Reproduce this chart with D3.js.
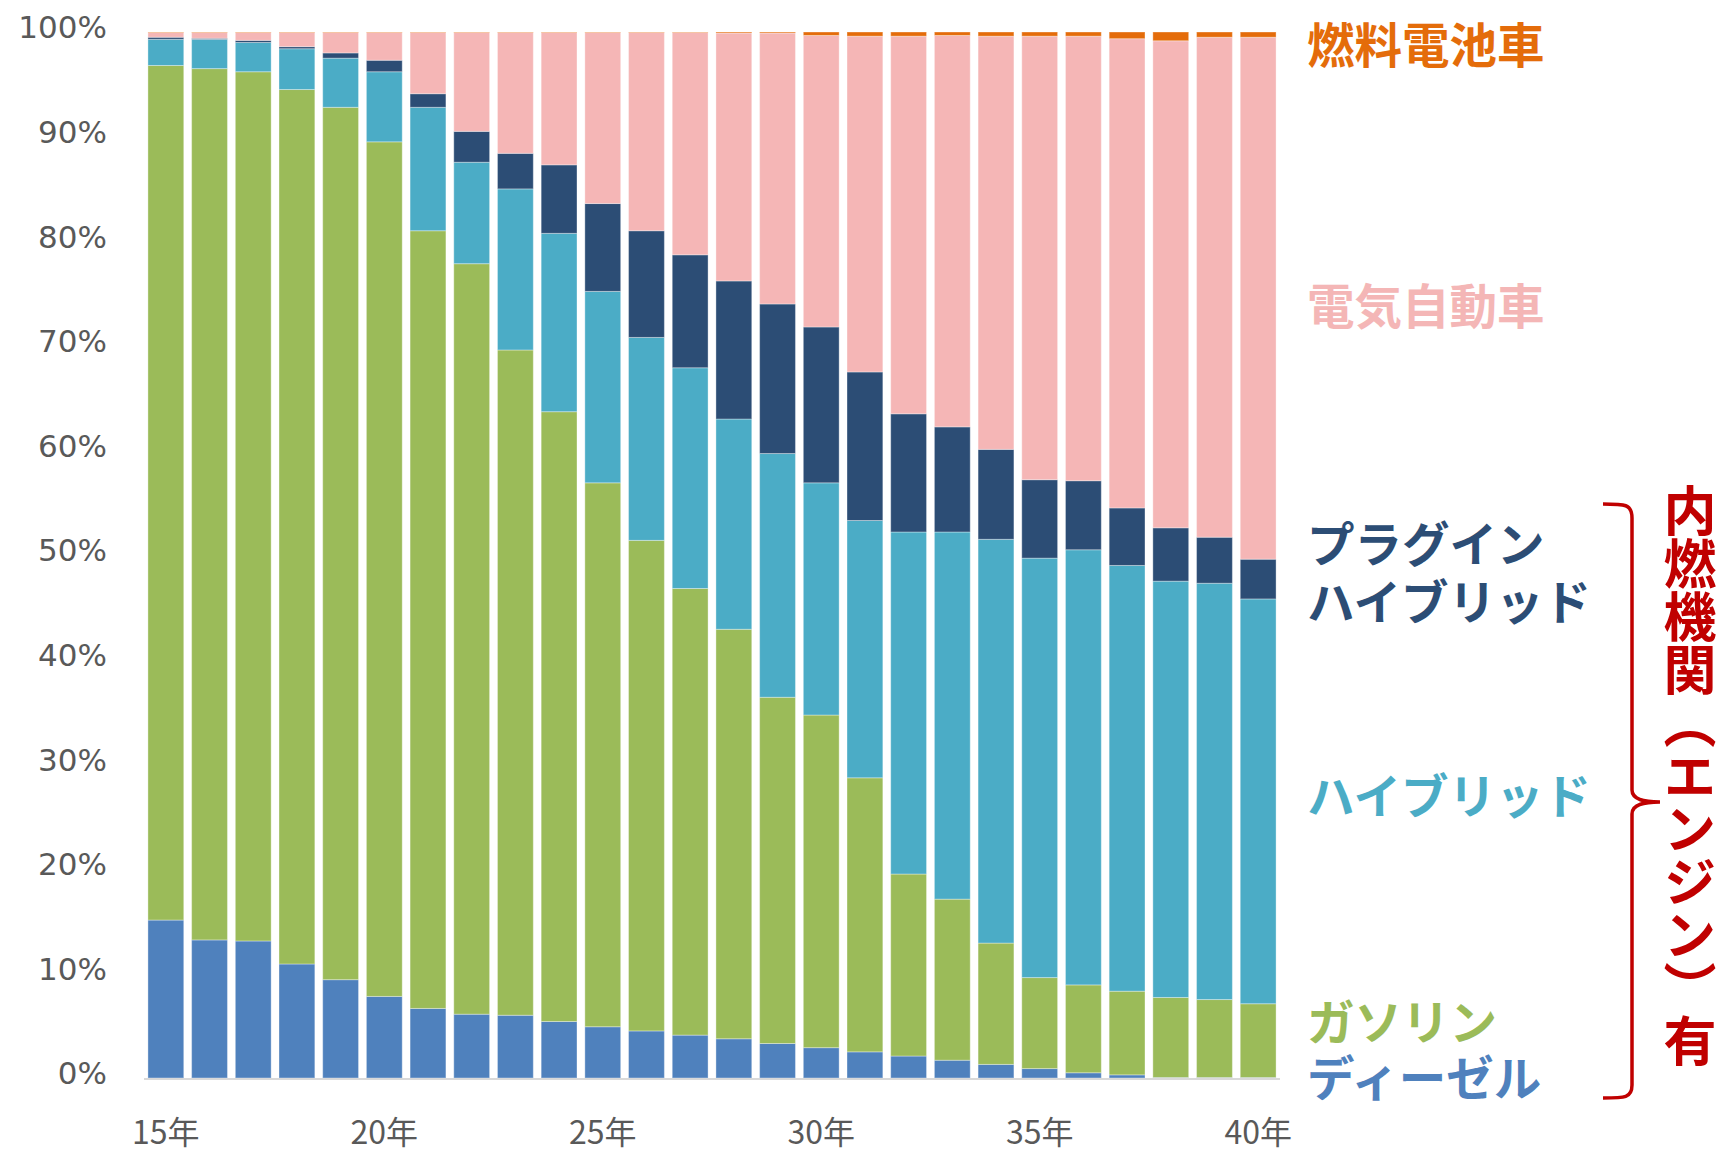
<!DOCTYPE html>
<html lang="ja">
<head>
<meta charset="UTF-8">
<title>パワートレイン別 新車販売比率</title>
<script src="https://d3js.org/d3.v7.min.js"></script>
<style>
  body { margin: 0; background: #fff; }
  svg { display: block; }
</style>
</head>
<body>
<script>
// categories (years) and the labels shown on the x axis
var years = ["15年","16年","17年","18年","19年","20年","21年","22年","23年","24年","25年","26年","27年",
             "28年","29年","30年","31年","32年","33年","34年","35年","36年","37年","38年","39年","40年"];
var xTickLabels = ["15年","20年","25年","30年","35年","40年"];
var yTicks = [0,10,20,30,40,50,60,70,80,90,100];

// share in % (bottom to top)
var diesel   = [15.1,13.2,13.1,10.9,9.4,7.8,6.65,6.1,6.0,5.4,4.9,4.5,4.1,3.75,3.3,2.9,2.5,2.1,1.7,1.3,0.9,0.5,0.3,0.05,0.05,0.05];
var gasoline = [81.7,83.3,83.1,83.6,83.4,81.7,74.35,71.75,63.6,58.3,52.0,46.9,42.7,39.15,33.1,31.8,26.2,17.4,15.4,11.6,8.7,8.4,8.0,7.65,7.45,7.05];
var hybrid   = [2.5,2.8,2.8,3.9,4.7,6.7,11.8,9.7,15.4,17.05,18.3,19.4,21.1,20.1,23.3,22.2,24.6,32.7,35.1,38.6,40.1,41.6,40.7,39.8,39.8,38.7];
var phev     = [0.2,0.1,0.2,0.2,0.5,1.1,1.3,2.95,3.4,6.55,8.4,10.2,10.8,13.2,14.3,14.9,14.2,11.3,10.05,8.6,7.5,6.6,5.5,5.1,4.4,3.8];
var ev       = [0.45,0.55,0.75,1.35,1.95,2.65,5.85,9.45,11.55,12.65,16.35,18.95,21.25,23.7,25.9,27.87,32.1,36.1,37.42,39.5,42.4,42.5,44.86,46.56,47.8,49.9];
var fcv      = [0.05,0.05,0.05,0.05,0.05,0.05,0.05,0.05,0.05,0.05,0.05,0.05,0.05,0.1,0.1,0.33,0.4,0.4,0.33,0.4,0.4,0.4,0.64,0.84,0.5,0.5];

var keys = ["diesel","gasoline","hybrid","phev","ev","fcv"];
var colors = {
  diesel: "#4F81BD", gasoline: "#9BBB59", hybrid: "#4BACC6",
  phev: "#2C4D75", ev: "#F5B6B6", fcv: "#E46C0A"
};

var rows = years.map(function(y, i) {
  return { year: y, diesel: diesel[i], gasoline: gasoline[i], hybrid: hybrid[i],
           phev: phev[i], ev: ev[i], fcv: fcv[i] };
});

var W = 1730, H = 1153;
var svg = d3.select("body").append("svg")
  .attr("width", W)
  .attr("height", H);

var x = d3.scaleBand()
  .domain(years)
  .range([144, 1280])
  .paddingInner(0.18)
  .paddingOuter(0.09);

var y = d3.scaleLinear()
  .domain([0, 1])
  .range([1078, 32]);

var stack = d3.stack()
  .keys(keys)
  .offset(d3.stackOffsetExpand);

var layers = svg.append("g").selectAll("g")
  .data(stack(rows))
  .enter().append("g")
  .attr("fill", function(d) { return colors[d.key]; });

layers.selectAll("rect")
  .data(function(d) { return d; })
  .enter().append("rect")
  .attr("x", function(d) { return x(d.data.year); })
  .attr("width", x.bandwidth())
  .attr("y", function(d) { return y(d[1]); })
  .attr("height", function(d) { return Math.max(0, y(d[0]) - y(d[1])); })
  .attr("stroke", "rgba(255,255,255,0.35)")
  .attr("stroke-width", 1);

// baseline
svg.append("line")
  .attr("x1", 144).attr("x2", 1280)
  .attr("y1", y(0) + 1).attr("y2", y(0) + 1)
  .attr("stroke", "#D9D9D9")
  .attr("stroke-width", 2);

// y axis labels
var yAxis = d3.axisLeft(d3.scaleLinear().domain([0, 100]).range([1078, 32]))
  .tickValues(yTicks)
  .tickSize(0)
  .tickPadding(0)
  .tickFormat(function(d) { return d + "%"; });

var gy = svg.append("g")
  .attr("transform", "translate(107,-4)")
  .call(yAxis);
gy.select(".domain").remove();
gy.selectAll("text")
  .attr("font-family", "DejaVu Sans, Verdana, sans-serif")
  .attr("font-size", 31)
  .attr("fill", "#595959");

// x axis labels
var xAxis = d3.axisBottom(x)
  .tickValues(xTickLabels)
  .tickSize(0)
  .tickPadding(0);

var gx = svg.append("g")
  .attr("transform", "translate(0,1133)")
  .call(xAxis);
gx.select(".domain").remove();
gx.selectAll("text")
  .attr("dy", "0.35em")
  .attr("y", 0)
  .attr("font-family", "Noto Sans CJK JP, sans-serif")
  .attr("font-size", 32)
  .attr("fill", "#595959");

// series labels on the right
var labels = [
  { text: "燃料電池車", y: 42, color: colors.fcv },
  { text: "電気自動車", y: 303, color: "#F4B6B6" },
  { text: "プラグイン", y: 541, color: colors.phev },
  { text: "ハイブリッド", y: 599, color: colors.phev },
  { text: "ハイブリッド", y: 793, color: colors.hybrid },
  { text: "ガソリン", y: 1019, color: colors.gasoline },
  { text: "ディーゼル", y: 1075, color: colors.diesel }
];

svg.append("g").selectAll("text")
  .data(labels)
  .enter().append("text")
  .attr("x", 1307)
  .attr("y", function(d) { return d.y; })
  .attr("dominant-baseline", "central")
  .attr("font-family", "Noto Sans CJK JP, sans-serif")
  .attr("font-weight", 700)
  .attr("font-size", 47.5)
  .attr("fill", function(d) { return d.color; })
  .text(function(d) { return d.text; });

// bracket
svg.append("path")
  .attr("d", "M1603,504 C1625,504 1632,504 1632,518 L1632,790 C1632,800 1645,802 1660,802 " +
             "C1645,802 1632,804 1632,814 L1632,1085 C1632,1098 1625,1098 1603,1098")
  .attr("fill", "none")
  .attr("stroke", "#C00000")
  .attr("stroke-width", 3.5);

// vertical annotation
svg.append("text")
  .attr("x", 1690)
  .attr("y", 484)
  .style("writing-mode", "vertical-rl")
  .attr("font-family", "Noto Sans CJK JP, sans-serif")
  .attr("font-weight", 700)
  .attr("font-size", 53)
  .attr("fill", "#C00000")
  .text("内燃機関（エンジン）有");
</script>
</body>
</html>
